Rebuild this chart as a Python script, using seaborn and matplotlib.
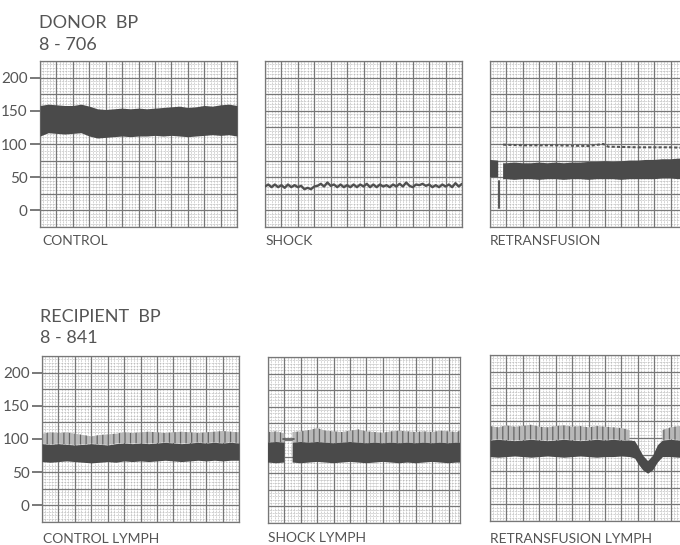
import numpy as np
import matplotlib
matplotlib.use("Agg")
import matplotlib.pyplot as plt
import seaborn as sns

# ---- values (mmHg vs chart divisions) ----
nan = np.nan

t_half = [0, 0.5, 1, 1.5, 2, 2.5, 3, 3.5, 4, 4.5, 5, 5.5, 6, 6.5, 7, 7.5,
          8, 8.5, 9, 9.5, 10, 10.5, 11, 11.5, 12]

# donor, control
ctrl_upper = [158, 160, 159, 158, 158, 160, 157, 153, 152, 153, 154, 153, 154,
              153, 154, 155, 156, 157, 155, 156, 158, 157, 159, 160, 158]
ctrl_lower = [112, 117, 116, 115, 116, 117, 112, 109, 110, 111, 112, 111, 112,
              112, 113, 112, 113, 112, 111, 112, 113, 114, 113, 114, 112]

# donor, shock
shock_t = [0, 0.2, 0.4, 0.6, 0.8, 1.0, 1.2, 1.4, 1.6, 1.8, 2.0, 2.2, 2.4, 2.6,
           2.8, 3.0, 3.2, 3.4, 3.6, 3.8, 4.0, 4.2, 4.4, 4.6, 4.8, 5.0, 5.2,
           5.4, 5.6, 5.8, 6.0, 6.2, 6.4, 6.6, 6.8, 7.0, 7.2, 7.4, 7.6, 7.8,
           8.0, 8.2, 8.4, 8.6, 8.8, 9.0, 9.2, 9.4, 9.6, 9.8, 10.0, 10.2, 10.4,
           10.6, 10.8, 11.0, 11.2, 11.4, 11.6, 11.8, 12.0]
shock_bp = [36, 39, 35, 39, 35, 38, 34, 39, 35, 38, 35, 37, 32, 34, 32, 36,
            37, 40, 36, 42, 37, 39, 35, 39, 35, 38, 35, 39, 35, 39, 36, 40,
            35, 39, 35, 39, 36, 38, 35, 39, 36, 40, 36, 42, 37, 35, 39, 38,
            40, 37, 39, 35, 38, 35, 39, 36, 39, 35, 41, 36, 40]

# donor, retransfusion
retx_t = [0, 0.5, 0.65, 0.8, 1, 1.5, 2, 2.5, 3, 3.5, 4, 4.5, 5, 5.5, 6, 6.5,
          7, 7.5, 8, 8.5, 9, 9.5, 10, 10.5, 11, 11.5, 12]
retx_upper = [76, 75, nan, 71, 71, 72, 71, 71, 72, 71, 72, 71, 72, 72, 73, 73,
              74, 73, 74, 75, 75, 76, 76, 77, 77, 78, 78]
retx_lower = [50, 50, nan, 47, 47, 46, 47, 47, 46, 47, 47, 46, 47, 47, 46, 47,
              47, 47, 46, 47, 47, 47, 47, 48, 48, 47, 48]
retx_trace_t = [0.8, 2, 4, 6, 6.9, 7.2, 9, 11, 12]
retx_trace_bp = [99, 98, 98, 97, 100, 96, 95, 95, 94]
retx_drop_t = [0.55, 0.55]
retx_drop_bp = [44, 3]

# recipient, control lymph
cl_upper = [93, 92, 93, 92, 91, 92, 93, 92, 91, 93, 94, 93, 94, 93, 94, 95,
            94, 93, 94, 95, 94, 95, 94, 95, 94]
cl_lower = [66, 65, 66, 67, 66, 65, 64, 65, 66, 65, 67, 66, 67, 66, 67, 68,
            67, 66, 67, 68, 67, 68, 67, 68, 68]
cl_spikes = [108, 110, 109, 110, 108, 106, 104, 106, 107, 108, 110, 109, 110,
             111, 110, 109, 110, 111, 110, 109, 110, 111, 112, 111, 110]

# recipient, shock lymph
sl_t = [0, 0.5, 1, 1.25, 1.5, 2, 2.5, 3, 3.5, 4, 4.5, 5, 5.5, 6, 6.5, 7,
        7.5, 8, 8.5, 9, 9.5, 10, 10.5, 11, 11.5, 11.7]
sl_upper = [96, 97, 96, nan, 96, 97, 96, 97, 96, 95, 96, 97, 96, 95, 96, 95,
            96, 95, 96, 95, 96, 95, 96, 95, 96, 96]
sl_lower = [66, 65, 66, nan, 66, 65, 66, 67, 66, 65, 66, 67, 66, 65, 66, 67,
            66, 65, 66, 65, 66, 67, 66, 65, 66, 66]
sl_spikes = [112, 113, 110, nan, 112, 113, 115, 118, 114, 113, 112, 114, 116,
             113, 112, 111, 113, 114, 113, 112, 113, 112, 114, 113, 112, 114]
sl_gap_t = [0.9, 1.6]
sl_gap_bp = [101, 101]

# recipient, retransfusion lymph
rl_t = [0, 0.5, 1, 1.5, 2, 2.5, 3, 3.5, 4, 4.5, 5, 5.5, 6, 6.5, 7, 7.5, 8,
        8.5, 8.8, 9.0, 9.3, 9.6, 9.9, 10.2, 10.5, 11, 11.5, 12]
rl_upper = [97, 98, 97, 96, 97, 98, 97, 96, 97, 98, 97, 96, 97, 98, 97, 98,
            97, 97, 96, 88, 74, 66, 74, 90, 97, 98, 97, 98]
rl_lower = [72, 71, 72, 73, 72, 71, 72, 73, 72, 71, 72, 73, 72, 71, 72, 72,
            73, 72, 70, 62, 52, 47, 52, 64, 72, 72, 71, 72]
rl_spikes = [118, 116, 119, 117, 118, 120, 117, 116, 118, 119, 117, 118, 116,
             118, 117, 116, 115, 112, nan, nan, nan, nan, nan, nan, 112, 116,
             118, 117]

y_ticks = [0, 50, 100, 150, 200]

# ---- styling ----
sns.set_theme(style="white")
plt.rcParams["font.family"] = ["Lato", "DejaVu Sans"]
plt.rcParams["hatch.linewidth"] = 0.9
ink = "#4a4a4a"
text_col = "#555555"

W, H = 680, 545
fig = plt.figure(figsize=(W / 100, H / 100), dpi=100)
fig.patch.set_facecolor("white")


def panel(left, top, width, height, xmax, labels):
    ax = fig.add_axes([left / W, 1 - (top + height) / H, width / W, height / H])
    ax.set_xlim(0, xmax)
    ax.set_ylim(-25, 225)
    for v in np.arange(0, xmax + 0.01, 0.2):
        ax.axvline(v, color="#a5a5a5", lw=0.5, ls=(0, (1, 1.2)), zorder=0)
    for v in np.arange(-25, 226, 5):
        ax.axhline(v, color="#a5a5a5", lw=0.5, ls=(0, (1, 1.2)), zorder=0)
    for v in np.arange(0, xmax + 0.01, 1):
        ax.axvline(v, color="#777777", lw=0.9, zorder=1)
    for v in np.arange(-25, 226, 25):
        ax.axhline(v, color="#777777", lw=0.9, zorder=1)
    for s in ax.spines.values():
        s.set_color("#777777")
        s.set_linewidth(0.9)
    ax.set_xticks([])
    ax.set_xlabel("")
    ax.set_ylabel("")
    if labels:
        ax.set_yticks(y_ticks)
        ax.tick_params(axis="y", left=True, direction="out", length=7,
                       width=1.1, color=text_col, pad=2, labelsize=11,
                       labelcolor=text_col)
    else:
        ax.set_yticks([])
    return ax


def band(ax, t, lo, hi, color):
    ax.fill_between(t, lo, hi, color=color, lw=0, zorder=3)


def spikes(ax, t, lo, hi):
    ax.fill_between(t, lo, hi, facecolor="#b8b8b8", edgecolor="#666666",
                    hatch="|||", lw=0, zorder=2)


# top row: donor
ax1 = panel(40, 61, 197, 166, 12, True)
band(ax1, t_half, ctrl_lower, ctrl_upper, ink)

ax2 = panel(265, 61, 197, 166, 12, False)
sns.lineplot(x=shock_t, y=shock_bp, ax=ax2, color="#505050", lw=1.7,
             estimator=None, zorder=3)

ax3 = panel(490, 61, 197, 166, 12, False)
band(ax3, retx_t, retx_lower, retx_upper, ink)
sns.lineplot(x=retx_trace_t, y=retx_trace_bp, ax=ax3, color="#555555",
             lw=1.5, ls=(0, (1.5, 1)), estimator=None, zorder=3)
sns.lineplot(x=retx_drop_t, y=retx_drop_bp, ax=ax3, color="#555555", lw=1.4,
             estimator=None, sort=False, zorder=3)

# bottom row: recipient
ax4 = panel(42, 356, 197, 166, 12, True)
spikes(ax4, t_half, cl_upper, cl_spikes)
band(ax4, t_half, cl_lower, cl_upper, ink)

ax5 = panel(268, 357, 192, 166, 11.7, False)
spikes(ax5, sl_t, sl_upper, sl_spikes)
band(ax5, sl_t, sl_lower, sl_upper, ink)
sns.lineplot(x=sl_gap_t, y=sl_gap_bp, ax=ax5, color="#555555", lw=1.2,
             estimator=None, zorder=3)

ax6 = panel(490, 355, 197, 166, 12, False)
spikes(ax6, rl_t, rl_upper, rl_spikes)
band(ax6, rl_t, rl_lower, rl_upper, ink)

# ---- text ----
def put(x, y, s, size):
    fig.text(x / W, 1 - y / H, s, fontsize=size, color=text_col,
             ha="left", va="baseline")


put(39, 28, "DONOR  BP", 13)
put(39, 50, "8 - 706", 13)
put(40, 322, "RECIPIENT  BP", 13)
put(40, 343, "8 - 841", 13)

put(42, 245, "CONTROL", 10)
put(266, 245, "SHOCK", 10)
put(490, 245, "RETRANSFUSION", 10)
put(43, 543, "CONTROL LYMPH", 10)
put(268, 542, "SHOCK LYMPH", 10)
put(490, 543, "RETRANSFUSION LYMPH", 10)

fig.savefig("out.png", dpi=100, facecolor="white")
